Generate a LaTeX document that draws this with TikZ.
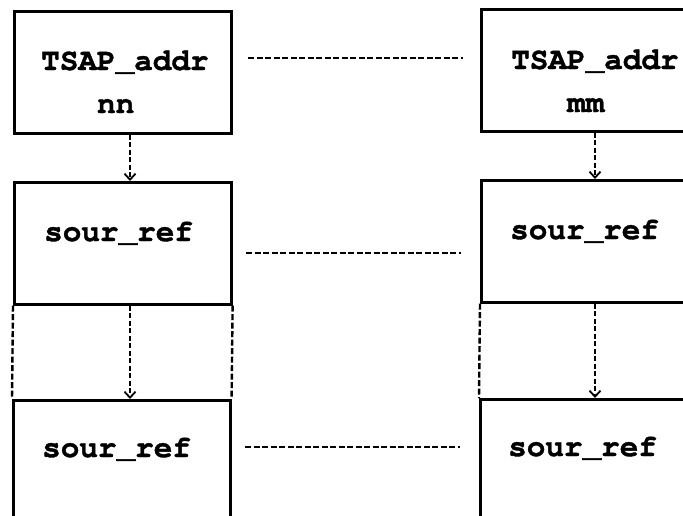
\documentclass[tikz,border=0pt]{standalone}
\usepackage{fontspec}
\setmonofont{texgyrecursor}[Extension=.otf,UprightFont=*-regular,BoldFont=*-bold,BoldFeatures={FakeBold=1.2}]
\usetikzlibrary{arrows.meta}
\begin{document}
\begin{tikzpicture}[x=1pt,y=-1pt,
  box/.style={draw=black,line width=2.6pt,minimum width=217pt,minimum height=122pt,inner sep=0pt,anchor=north west},
  lbl/.style={anchor=base west,inner sep=0pt,font=\fontsize{31}{36}\selectfont\ttfamily\bfseries},
  link/.style={line width=2.2pt,dash pattern=on 6pt off 2.5pt},
  side/.style={line width=2.4pt,dash pattern=on 6pt off 2.5pt},
  arr/.style={line width=2pt,dash pattern=on 5pt off 2.5pt,-{Straight Barb[length=6pt,width=11pt,line width=1.8pt]}}]
\useasboundingbox (0,0) rectangle (683,515);
\clip (0,0) rectangle (683,515);
% boxes
\node[box] (L1) at (13,10) {};
\node[box] (L2) at (13,181) {};
\node[box] (L3) at (12,399) {};
\node[box] (R1) at (480,8) {};
\node[box] (R2) at (480,179) {};
\node[box] (R3) at (479,398) {};
% labels
\node[lbl] (t1) at (41,70) {TSAP\_addr};
\node[lbl] (t2) at (97,113) {nn};
\node[lbl] (t3) at (44,241) {sour\_ref};
\node[lbl] (t4) at (42,457) {sour\_ref};
\node[lbl] (t5) at (511,69) {TSAP\_addr};
\node[lbl] (t6) at (567,112) {mm};
\node[lbl] (t7) at (510,239) {sour\_ref};
\node[lbl] (t8) at (508,456) {sour\_ref};
% horizontal dashed links
\coordinate (h1a) at (248,58); \coordinate (h1b) at (463,58);
\coordinate (h2a) at (246,253); \coordinate (h2b) at (461,253);
\coordinate (h3a) at (245,447); \coordinate (h3b) at (460,447);
\draw[link] (h1a) -- (h1b);
\draw[link] (h2a) -- (h2b);
\draw[link] (h3a) -- (h3b);
% dashed side walls between second and third boxes
\draw[side] (L2.south west) -- (L3.north west);
\draw[side] (L2.south east) -- (L3.north east);
\draw[side] (R2.south west) -- (R3.north west);
% vertical arrows
\coordinate (ax) at (130,0);
\coordinate (bx) at (595,0);
\draw[arr] (L1.south -| ax) -- (L2.north -| ax);
\draw[arr] (L2.south -| ax) -- (L3.north -| ax);
\draw[arr] (R1.south -| bx) -- (R2.north -| bx);
\draw[arr] (R2.south -| bx) -- (R3.north -| bx);
\end{tikzpicture}
\end{document}
